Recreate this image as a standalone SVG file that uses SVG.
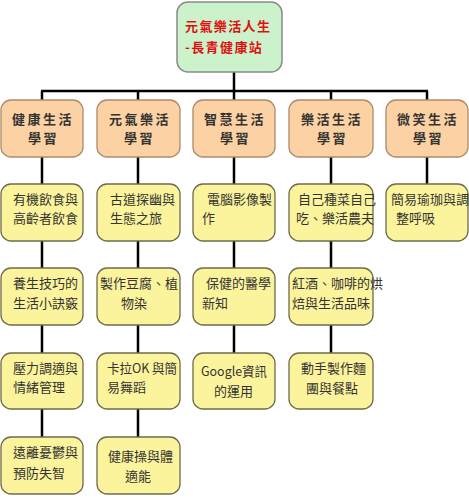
<svg xmlns="http://www.w3.org/2000/svg" width="469" height="500" viewBox="0 0 469 500">
<style>
text{font-family:"Noto Sans CJK TC","Noto Sans CJK SC",sans-serif;fill:#222}
.root rect{fill:#ccf2cc;stroke:#8a8a8a;stroke-width:1.5}
.root text{fill:#e01010;font-size:13px;font-weight:bold;letter-spacing:1.4px}
.l1 rect{fill:#fcd2a4;stroke:#a88c6c;stroke-width:1.3}
.l1 text{font-size:13px;font-weight:bold;letter-spacing:2.5px;fill:#333}
.l2 rect{fill:#fcf49c;stroke:#6c6c4c;stroke-width:1.3}
.l2 text{font-size:13px;fill:#333}
.conn line{stroke:#000;stroke-width:2.5}
</style>
<rect width="469" height="500" fill="#fff"/>
<g id="connectors" class="conn">
<line x1="234" y1="72" x2="234" y2="91"/>
<line x1="41" y1="91" x2="428" y2="91"/>
<line x1="42" y1="91" x2="42" y2="437"/>
<line x1="138" y1="91" x2="138" y2="437"/>
<line x1="234" y1="91" x2="234" y2="353"/>
<line x1="331" y1="91" x2="331" y2="353"/>
<line x1="427" y1="91" x2="427" y2="184"/>
</g>
<g id="root" class="root">
<rect x="177" y="2" width="105" height="70" rx="11"/>
<text x="185" y="31">元氣樂活人生</text>
<text x="185" y="52">-長青健康站</text>
</g>
<g id="n1" class="l1"><rect x="1" y="100" width="82" height="57" rx="10"/><text x="12" y="124">健康生活</text><text x="28" y="143">學習</text></g>
<g id="n2" class="l1"><rect x="97" y="100" width="83" height="57" rx="10"/><text x="109" y="124">元氣樂活</text><text x="124" y="143">學習</text></g>
<g id="n3" class="l1"><rect x="193" y="100" width="82" height="57" rx="10"/><text x="204" y="124">智慧生活</text><text x="220" y="143">學習</text></g>
<g id="n4" class="l1"><rect x="289" y="100" width="84" height="57" rx="10"/><text x="301" y="124">樂活生活</text><text x="317" y="143">學習</text></g>
<g id="n5" class="l1"><rect x="386" y="100" width="82" height="57" rx="10"/><text x="397" y="124">微笑生活</text><text x="413" y="143">學習</text></g>

<g id="c1r1" class="l2"><rect x="1" y="184" width="82" height="57" rx="10"/><text x="13" y="204">有機飲食與</text><text x="13" y="223">高齡者飲食</text></g>
<g id="c1r2" class="l2"><rect x="1" y="268" width="82" height="57" rx="10"/><text x="13" y="288">養生技巧的</text><text x="13" y="308">生活小訣竅</text></g>
<g id="c1r3" class="l2"><rect x="1" y="353" width="82" height="56" rx="10"/><text x="13" y="373">壓力調適與</text><text x="13" y="392">情緒管理</text></g>
<g id="c1r4" class="l2"><rect x="1" y="437" width="82" height="57" rx="10"/><text x="13" y="457">遠離憂鬱與</text><text x="13" y="478">預防失智</text></g>

<g id="c2r1" class="l2"><rect x="97" y="184" width="83" height="57" rx="10"/><text x="110" y="204">古道探幽與</text><text x="110" y="223">生態之旅</text></g>
<g id="c2r2" class="l2"><rect x="97" y="268" width="83" height="57" rx="10"/><text x="100" y="288" font-size="12.6">製作豆腐、植</text><text x="121" y="308">物染</text></g>
<g id="c2r3" class="l2"><rect x="97" y="353" width="83" height="56" rx="10"/><text x="107" y="373" textLength="70" lengthAdjust="spacingAndGlyphs">卡拉OK 與簡</text><text x="107" y="392">易舞蹈</text></g>
<g id="c2r4" class="l2"><rect x="97" y="437" width="83" height="57" rx="10"/><text x="108" y="461">健康操與體</text><text x="125" y="481">適能</text></g>

<g id="c3r1" class="l2"><rect x="193" y="184" width="82" height="57" rx="10"/><text x="207" y="204">電腦影像製</text><text x="202" y="223">作</text></g>
<g id="c3r2" class="l2"><rect x="193" y="268" width="82" height="57" rx="10"/><text x="206" y="288">保健的醫學</text><text x="202" y="308">新知</text></g>
<g id="c3r3" class="l2"><rect x="193" y="353" width="82" height="56" rx="10"/><text x="201" y="376" textLength="66" lengthAdjust="spacingAndGlyphs">Google資訊</text><text x="214" y="396">的運用</text></g>

<g id="c4r1" class="l2"><rect x="289" y="184" width="84" height="57" rx="10"/><text x="298" y="204" font-size="12">自己種菜自己</text><text x="296" y="223" font-size="12">吃、樂活農夫</text></g>
<g id="c4r2" class="l2"><rect x="289" y="268" width="84" height="57" rx="10"/><text x="292" y="288" font-size="11.3">紅酒、咖啡的烘</text><text x="292" y="308" font-size="11.3">焙與生活品味</text></g>
<g id="c4r3" class="l2"><rect x="289" y="353" width="84" height="56" rx="10"/><text x="301" y="373">動手製作麵</text><text x="306" y="393">團與餐點</text></g>

<g id="c5r1" class="l2"><rect x="386" y="184" width="82" height="57" rx="10"/><text x="391" y="204" font-size="12">簡易瑜珈與調</text><text x="396" y="223" font-size="12">整呼吸</text></g>
</svg>
